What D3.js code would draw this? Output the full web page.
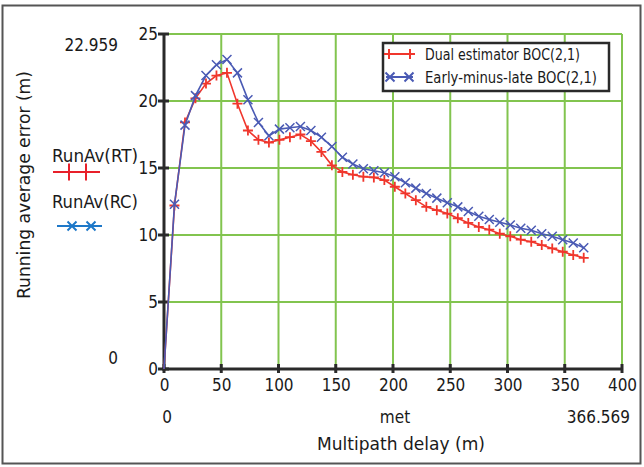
<!DOCTYPE html>
<html><head><meta charset="utf-8">
<script src="https://cdn.jsdelivr.net/npm/d3@7"></script>
<style>
body{margin:0;background:#fff;}
text{font-family:"DejaVu Sans Condensed","Liberation Sans Narrow","Roboto Condensed",sans-serif;fill:#1a1a1a;}
</style></head><body>
<svg id="c" width="644" height="467"></svg>
<script>
const delays = [0, 9.16, 18.33, 27.49, 36.66, 45.82, 54.99, 64.15, 73.31, 82.48, 91.64, 100.81, 109.97, 119.14, 128.30, 137.46, 146.63, 155.79, 164.96, 174.12, 183.28, 192.45, 201.61, 210.78, 219.94, 229.11, 238.27, 247.43, 256.60, 265.76, 274.93, 284.09, 293.26, 302.42, 311.58, 320.75, 329.91, 339.08, 348.24, 357.41, 366.57];
const dualEstimator = [0, 12.2, 18.4, 20.2, 21.3, 21.9, 22.1, 19.8, 17.8, 17.1, 16.9, 17.1, 17.3, 17.5, 17.0, 16.2, 15.2, 14.7, 14.5, 14.35, 14.3, 14.1, 13.6, 13.1, 12.6, 12.1, 11.85, 11.6, 11.25, 10.9, 10.6, 10.4, 10.1, 9.9, 9.65, 9.5, 9.25, 9.0, 8.75, 8.5, 8.3];
const earlyMinusLate = [0, 12.3, 18.2, 20.4, 21.9, 22.7, 23.1, 22.1, 20.1, 18.4, 17.4, 17.9, 18.0, 18.1, 17.8, 17.3, 16.6, 15.8, 15.3, 14.95, 14.8, 14.65, 14.35, 13.9, 13.5, 13.1, 12.75, 12.4, 12.1, 11.75, 11.4, 11.15, 10.95, 10.75, 10.5, 10.35, 10.1, 9.9, 9.65, 9.4, 9.05];
const xTicks = [0, 50, 100, 150, 200, 250, 300, 350, 400];
const yTicks = [0, 5, 10, 15, 20, 25];
const seriesNames = ["Dual estimator BOC(2,1)", "Early-minus-late BOC(2,1)"];
const traceNames = ["RunAv(RT)", "RunAv(RC)"];
const xLimits = ["0", "met", "366.569"];
const yLimits = ["22.959", "0"];

const svg = d3.select("#c");
const RED = "#f0362c", BLUE = "#4a5ab4", GREEN = "#82c44f";
const x = d3.scaleLinear().domain([0, 400]).range([164, 622]);
const y = d3.scaleLinear().domain([0, 25]).range([369, 34]);

// outer frame
svg.append("rect").attr("x", 2.5).attr("y", 5.5).attr("width", 638).attr("height", 458)
  .attr("fill", "none").attr("stroke", "#555").attr("stroke-width", 2);

// grid
const g = svg.append("g");
g.selectAll(".gx").data(xTicks.slice(1)).enter().append("line")
  .attr("x1", d => x(d)).attr("x2", d => x(d)).attr("y1", y(0)).attr("y2", y(25))
  .attr("stroke", GREEN).attr("stroke-width", 2);
g.selectAll(".gy").data(yTicks.slice(1)).enter().append("line")
  .attr("x1", x(0)).attr("x2", x(400)).attr("y1", d => y(d)).attr("y2", d => y(d))
  .attr("stroke", GREEN).attr("stroke-width", 2);

// axes
const xAxis = d3.axisBottom(x).tickValues(xTicks).tickSize(0).tickPadding(10).tickFormat(d3.format("d"));
const yAxis = d3.axisLeft(y).tickValues(yTicks).tickSize(0).tickPadding(6).tickFormat(d3.format("d"));
const ax = svg.append("g").attr("transform", `translate(0,${y(0)})`).call(xAxis);
ax.select(".domain").remove();
ax.selectAll("text").attr("font-size", 17).attr("dy", "0.71em").style("font-family", null);
const ay = svg.append("g").attr("transform", `translate(${x(0)},0)`).call(yAxis);
ay.select(".domain").remove();
ay.selectAll("text").attr("font-size", 17).style("font-family", null);

// axis lines with ticks
svg.append("line").attr("x1", x(0)).attr("x2", x(0)).attr("y1", y(25)).attr("y2", y(0) + 1.5)
  .attr("stroke", "#2a2a2a").attr("stroke-width", 3);
svg.append("line").attr("x1", x(0) - 1.5).attr("x2", x(400)).attr("y1", y(0)).attr("y2", y(0))
  .attr("stroke", "#2a2a2a").attr("stroke-width", 3);
svg.selectAll(".tx").data(xTicks).enter().append("line")
  .attr("x1", d => x(d)).attr("x2", d => x(d)).attr("y1", y(0) - 5).attr("y2", y(0) + 4)
  .attr("stroke", "#2a2a2a").attr("stroke-width", 3);
svg.selectAll(".ty").data(yTicks).enter().append("line")
  .attr("x1", x(0) - 6).attr("x2", x(0) + 5).attr("y1", d => y(d)).attr("y2", d => y(d))
  .attr("stroke", "#2a2a2a").attr("stroke-width", 3);

// series
function plus(sel, cx, cy, r, color, w) {
  sel.append("path").attr("d", `M${cx - r},${cy}H${cx + r}M${cx},${cy - r}V${cy + r}`)
    .attr("stroke", color).attr("stroke-width", w).attr("fill", "none");
}
function cross(sel, cx, cy, r, color, w) {
  sel.append("path").attr("d", `M${cx - r},${cy - r}L${cx + r},${cy + r}M${cx - r},${cy + r}L${cx + r},${cy - r}`)
    .attr("stroke", color).attr("stroke-width", w).attr("fill", "none");
}
const line = d3.line().x(d => x(d[0])).y(d => y(d[1]));
const redPts = delays.map((d, i) => [d, dualEstimator[i]]);
const bluePts = delays.map((d, i) => [d, earlyMinusLate[i]]);
const sg = svg.append("g");
sg.append("path").attr("d", line(redPts)).attr("fill", "none").attr("stroke", RED).attr("stroke-width", 1.6);
redPts.slice(1).forEach(p => plus(sg, x(p[0]), y(p[1]), 5, RED, 1.8));
sg.append("path").attr("d", line(bluePts)).attr("fill", "none").attr("stroke", BLUE).attr("stroke-width", 1.6);
bluePts.slice(1).forEach(p => cross(sg, x(p[0]), y(p[1]), 4.5, BLUE, 1.5));

// legend box
const lg = svg.append("g");
lg.append("rect").attr("x", 383).attr("y", 43).attr("width", 226).attr("height", 48)
  .attr("fill", "#fff").attr("stroke", "#2a2a2a").attr("stroke-width", 2.5);
lg.append("line").attr("x1", 386).attr("x2", 413).attr("y1", 54).attr("y2", 54).attr("stroke", RED).attr("stroke-width", 2);
plus(lg, 389, 54, 5, RED, 2); plus(lg, 410, 54, 5, RED, 2);
lg.append("line").attr("x1", 386).attr("x2", 413).attr("y1", 77).attr("y2", 77).attr("stroke", BLUE).attr("stroke-width", 2);
cross(lg, 390, 77, 4.5, BLUE, 2); cross(lg, 409, 77, 4.5, BLUE, 2);
lg.append("text").attr("x", 425).attr("y", 60).attr("font-size", 15).attr("textLength", 155).attr("lengthAdjust", "spacingAndGlyphs").text(seriesNames[0]);
lg.append("text").attr("x", 425).attr("y", 83).attr("font-size", 15).attr("textLength", 172).attr("lengthAdjust", "spacingAndGlyphs").text(seriesNames[1]);

// left trace legend
svg.append("text").attr("x", 52).attr("y", 162).attr("font-size", 18).attr("textLength", 86).attr("lengthAdjust", "spacingAndGlyphs").text(traceNames[0]);
svg.append("line").attr("x1", 53).attr("x2", 100).attr("y1", 172).attr("y2", 172).attr("stroke", "#e8202a").attr("stroke-width", 2);
plus(svg, 69, 172, 8.5, "#e8202a", 2); plus(svg, 86, 172, 8.5, "#e8202a", 2);
svg.append("text").attr("x", 52).attr("y", 208).attr("font-size", 18).attr("textLength", 86).attr("lengthAdjust", "spacingAndGlyphs").text(traceNames[1]);
svg.append("line").attr("x1", 57).attr("x2", 102).attr("y1", 226).attr("y2", 226).attr("stroke", "#1e78c8").attr("stroke-width", 2);
cross(svg, 72, 226, 4.5, "#1e78c8", 2); cross(svg, 91, 226, 4.5, "#1e78c8", 2);

// limit labels
svg.append("text").attr("x", 118).attr("y", 51).attr("text-anchor", "end").attr("font-size", 17).text(yLimits[0]);
svg.append("text").attr("x", 118).attr("y", 364).attr("text-anchor", "end").attr("font-size", 17).text(yLimits[1]);
svg.append("text").attr("x", 167).attr("y", 423).attr("text-anchor", "middle").attr("font-size", 17).text(xLimits[0]);
svg.append("text").attr("x", 395).attr("y", 423).attr("text-anchor", "middle").attr("font-size", 17).text(xLimits[1]);
svg.append("text").attr("x", 630).attr("y", 423).attr("text-anchor", "end").attr("font-size", 17).text(xLimits[2]);

// axis titles
svg.append("text").attr("x", 401).attr("y", 450).attr("text-anchor", "middle").attr("font-size", 17)
  .attr("textLength", 168).attr("lengthAdjust", "spacingAndGlyphs").text("Multipath delay (m)");
svg.append("text").attr("transform", "translate(30,185) rotate(-90)").attr("text-anchor", "middle").attr("font-size", 17)
  .attr("textLength", 228).attr("lengthAdjust", "spacingAndGlyphs").text("Running average error (m)");
</script></body></html>
